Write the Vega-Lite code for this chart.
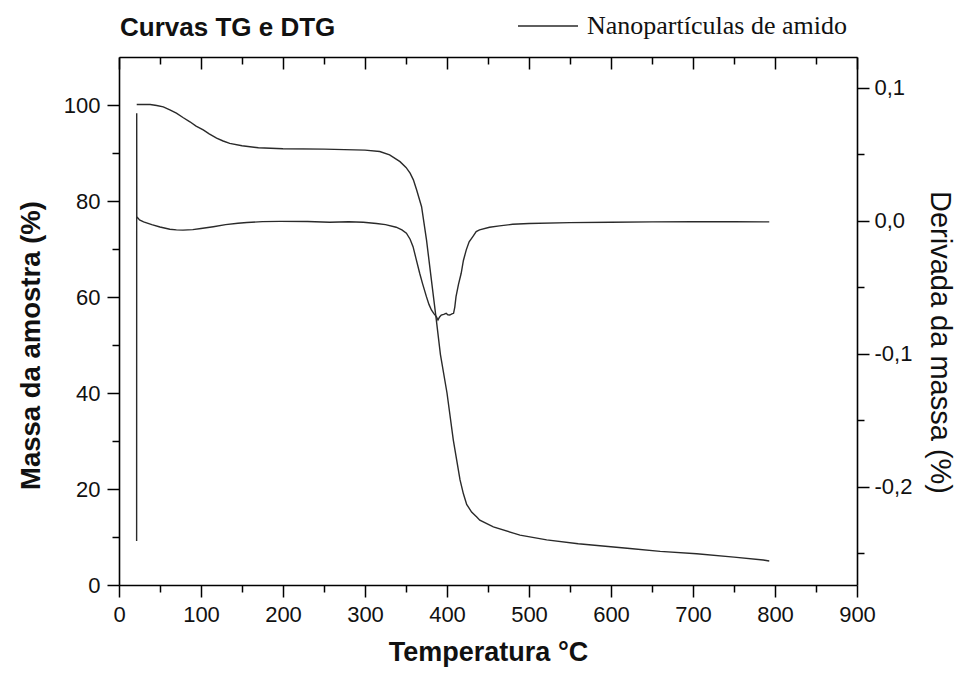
{
  "$schema": "https://vega.github.io/schema/vega-lite/v6.json",
  "autosize": {"type": "none"},
  "padding": {"left": 119, "top": 57, "right": 101, "bottom": 88},
  "width": 738,
  "height": 528,
  "background": "white",
  "config": {
    "view": {"stroke": null},
    "font": "Liberation Sans",
    "axis": {"grid": false, "domainColor": "#000", "tickColor": "#000", "domainWidth": 1.6, "tickWidth": 1.5, "labelColor": "#111", "titleColor": "#111", "labelFont": "Liberation Sans", "titleFont": "Liberation Sans", "labelFlush": false, "labelOverlap": false}
  },
  "title": {"text": "Curvas TG e DTG", "anchor": "start", "frame": "group", "fontSize": 26, "font": "Liberation Sans", "fontWeight": "bold", "baseline": "alphabetic", "offset": 0, "dy": 67, "dx": 1, "color": "#111"},
  "datasets": {
    "tg": [
      {"T": 21.6, "m": 100.1, "s": "Nanopartículas de amido"},
      {"T": 30, "m": 100.1, "s": "Nanopartículas de amido"},
      {"T": 38, "m": 100.1, "s": "Nanopartículas de amido"},
      {"T": 46, "m": 99.9, "s": "Nanopartículas de amido"},
      {"T": 54, "m": 99.6, "s": "Nanopartículas de amido"},
      {"T": 62, "m": 99.0, "s": "Nanopartículas de amido"},
      {"T": 70, "m": 98.3, "s": "Nanopartículas de amido"},
      {"T": 78, "m": 97.4, "s": "Nanopartículas de amido"},
      {"T": 86.5, "m": 96.5, "s": "Nanopartículas de amido"},
      {"T": 94, "m": 95.6, "s": "Nanopartículas de amido"},
      {"T": 102.7, "m": 94.8, "s": "Nanopartículas de amido"},
      {"T": 110, "m": 94.0, "s": "Nanopartículas de amido"},
      {"T": 119, "m": 93.1, "s": "Nanopartículas de amido"},
      {"T": 127, "m": 92.5, "s": "Nanopartículas de amido"},
      {"T": 135, "m": 92.0, "s": "Nanopartículas de amido"},
      {"T": 150, "m": 91.5, "s": "Nanopartículas de amido"},
      {"T": 170, "m": 91.1, "s": "Nanopartículas de amido"},
      {"T": 200, "m": 90.9, "s": "Nanopartículas de amido"},
      {"T": 250, "m": 90.8, "s": "Nanopartículas de amido"},
      {"T": 300, "m": 90.6, "s": "Nanopartículas de amido"},
      {"T": 318, "m": 90.3, "s": "Nanopartículas de amido"},
      {"T": 330, "m": 89.6, "s": "Nanopartículas de amido"},
      {"T": 342.7, "m": 88.2, "s": "Nanopartículas de amido"},
      {"T": 350, "m": 87.0, "s": "Nanopartículas de amido"},
      {"T": 355, "m": 85.8, "s": "Nanopartículas de amido"},
      {"T": 359, "m": 84.4, "s": "Nanopartículas de amido"},
      {"T": 363, "m": 82.3, "s": "Nanopartículas de amido"},
      {"T": 369, "m": 78.8, "s": "Nanopartículas de amido"},
      {"T": 375, "m": 71.9, "s": "Nanopartículas de amido"},
      {"T": 381, "m": 63.5, "s": "Nanopartículas de amido"},
      {"T": 387, "m": 55.2, "s": "Nanopartículas de amido"},
      {"T": 392, "m": 48.0, "s": "Nanopartículas de amido"},
      {"T": 400, "m": 40.0, "s": "Nanopartículas de amido"},
      {"T": 407.7, "m": 30.2, "s": "Nanopartículas de amido"},
      {"T": 415.9, "m": 21.9, "s": "Nanopartículas de amido"},
      {"T": 420, "m": 19.0, "s": "Nanopartículas de amido"},
      {"T": 424, "m": 16.8, "s": "Nanopartículas de amido"},
      {"T": 430, "m": 15.2, "s": "Nanopartículas de amido"},
      {"T": 436, "m": 14.2, "s": "Nanopartículas de amido"},
      {"T": 440, "m": 13.5, "s": "Nanopartículas de amido"},
      {"T": 456.5, "m": 12.1, "s": "Nanopartículas de amido"},
      {"T": 481, "m": 10.8, "s": "Nanopartículas de amido"},
      {"T": 489, "m": 10.4, "s": "Nanopartículas de amido"},
      {"T": 521.6, "m": 9.4, "s": "Nanopartículas de amido"},
      {"T": 560, "m": 8.6, "s": "Nanopartículas de amido"},
      {"T": 623, "m": 7.6, "s": "Nanopartículas de amido"},
      {"T": 660, "m": 7.0, "s": "Nanopartículas de amido"},
      {"T": 704.5, "m": 6.5, "s": "Nanopartículas de amido"},
      {"T": 750, "m": 5.8, "s": "Nanopartículas de amido"},
      {"T": 785.7, "m": 5.2, "s": "Nanopartículas de amido"},
      {"T": 793, "m": 5.0, "s": "Nanopartículas de amido"}
    ],
    "dtg": [
      {"i": 0, "T": 21.5, "d": -0.241},
      {"i": 1, "T": 21.6, "d": 0.0807},
      {"i": 2, "T": 21.7, "d": 0.003},
      {"i": 3, "T": 25, "d": 0.0005},
      {"i": 4, "T": 30, "d": -0.001},
      {"i": 5, "T": 40, "d": -0.003},
      {"i": 6, "T": 50, "d": -0.0048},
      {"i": 7, "T": 62, "d": -0.0065},
      {"i": 8, "T": 70, "d": -0.007},
      {"i": 9, "T": 78, "d": -0.0072},
      {"i": 10, "T": 90, "d": -0.0068},
      {"i": 11, "T": 100, "d": -0.006},
      {"i": 12, "T": 115, "d": -0.0046},
      {"i": 13, "T": 130, "d": -0.003},
      {"i": 14, "T": 145, "d": -0.002},
      {"i": 15, "T": 156, "d": -0.0014},
      {"i": 16, "T": 175, "d": -0.0008},
      {"i": 17, "T": 196, "d": -0.0006},
      {"i": 18, "T": 230, "d": -0.0007},
      {"i": 19, "T": 257, "d": -0.0012},
      {"i": 20, "T": 280, "d": -0.0009},
      {"i": 21, "T": 298, "d": -0.0013},
      {"i": 22, "T": 314, "d": -0.0022},
      {"i": 23, "T": 325, "d": -0.003},
      {"i": 24, "T": 338, "d": -0.005},
      {"i": 25, "T": 345, "d": -0.007},
      {"i": 26, "T": 350.5, "d": -0.0095},
      {"i": 27, "T": 355, "d": -0.014},
      {"i": 28, "T": 358.6, "d": -0.0196},
      {"i": 29, "T": 362, "d": -0.028},
      {"i": 30, "T": 366.7, "d": -0.0396},
      {"i": 31, "T": 370, "d": -0.047},
      {"i": 32, "T": 374.9, "d": -0.0572},
      {"i": 33, "T": 378, "d": -0.063},
      {"i": 34, "T": 381, "d": -0.0672},
      {"i": 35, "T": 384, "d": -0.07},
      {"i": 36, "T": 387, "d": -0.0722},
      {"i": 37, "T": 389, "d": -0.0747},
      {"i": 38, "T": 391, "d": -0.0725},
      {"i": 39, "T": 393, "d": -0.071},
      {"i": 40, "T": 396, "d": -0.0705},
      {"i": 41, "T": 399, "d": -0.0697},
      {"i": 42, "T": 401, "d": -0.0708},
      {"i": 43, "T": 403.4, "d": -0.071},
      {"i": 44, "T": 406, "d": -0.0702},
      {"i": 45, "T": 408, "d": -0.0697},
      {"i": 46, "T": 409.5, "d": -0.065},
      {"i": 47, "T": 411, "d": -0.0572},
      {"i": 48, "T": 414, "d": -0.048},
      {"i": 49, "T": 417.3, "d": -0.0396},
      {"i": 50, "T": 420, "d": -0.03},
      {"i": 51, "T": 423.5, "d": -0.022},
      {"i": 52, "T": 427, "d": -0.016},
      {"i": 53, "T": 431.5, "d": -0.012},
      {"i": 54, "T": 435.6, "d": -0.0083},
      {"i": 55, "T": 439.7, "d": -0.007},
      {"i": 56, "T": 451.9, "d": -0.005},
      {"i": 57, "T": 464, "d": -0.004},
      {"i": 58, "T": 480, "d": -0.0028},
      {"i": 59, "T": 500, "d": -0.0022},
      {"i": 60, "T": 550, "d": -0.0015},
      {"i": 61, "T": 600, "d": -0.0012},
      {"i": 62, "T": 650, "d": -0.001},
      {"i": 63, "T": 700, "d": -0.0009},
      {"i": 64, "T": 750, "d": -0.0009},
      {"i": 65, "T": 793, "d": -0.001}
    ]
  },
  "layer": [
    {
      "data": {"name": "tg"},
      "mark": {"type": "line", "strokeWidth": 1.4},
      "encoding": {
        "x": {"field": "T", "type": "quantitative", "scale": {"domain": [0, 900], "nice": false, "zero": false},
          "axis": {"orient": "bottom", "values": [0, 100, 200, 300, 400, 500, 600, 700, 800, 900], "tickSize": 12, "labelFontSize": 22, "labelPadding": 7, "title": "Temperatura °C", "titleFontSize": 27, "titleFontWeight": "bold", "titleBaseline": "alphabetic", "titleY": 75}},
        "y": {"field": "m", "type": "quantitative", "scale": {"domain": [0, 110], "nice": false, "zero": false},
          "axis": {"orient": "left", "values": [0, 20, 40, 60, 80, 100], "tickSize": 12, "labelFontSize": 22, "labelPadding": 7, "title": "Massa da amostra (%)", "titleFontSize": 27.5, "titleFontWeight": "bold", "titleAngle": -90, "titleBaseline": "alphabetic", "titleX": -80, "titleY": 288}},
        "color": {"field": "s", "type": "nominal", "scale": {"range": ["#2a2a2a"]},
          "legend": {"orient": "none", "legendX": 398, "legendY": -62, "padding": 0, "title": null, "symbolType": "stroke", "symbolSize": 3600, "symbolStrokeWidth": 1.3, "labelFont": "Liberation Serif", "labelFontSize": 26, "labelOffset": 8, "labelLimit": 0, "labelColor": "#111"}}
      }
    },
    {
      "data": {"name": "dtg"},
      "mark": {"type": "line", "strokeWidth": 1.4, "color": "#2a2a2a"},
      "encoding": {
        "x": {"field": "T", "type": "quantitative", "scale": {"domain": [0, 900], "nice": false, "zero": false},
          "axis": {"orient": "top", "values": [0, 100, 200, 300, 400, 500, 600, 700, 800, 900], "tickSize": -12, "labels": false, "title": null}},
        "y": {"field": "d", "type": "quantitative", "scale": {"domain": [-0.274, 0.123], "nice": false, "zero": false},
          "axis": {"orient": "right", "values": [0.1, 0, -0.1, -0.2], "format": ".1f", "labelExpr": "replace(replace(datum.label, '.', ','), '\u2212', '-')", "tickSize": 12, "labelFontSize": 22, "labelPadding": 5, "title": "Derivada da massa (%)", "titleFontSize": 29, "titleFontWeight": "normal", "titleAngle": 90, "titleBaseline": "alphabetic", "titleX": 73, "titleY": 285}},
        "order": {"field": "i", "type": "quantitative"}
      }
    },
    {
      "data": {"name": "tg"},
      "mark": {"type": "line", "opacity": 0},
      "encoding": {
        "x": {"field": "T", "type": "quantitative", "scale": {"domain": [0, 900], "nice": false, "zero": false},
          "axis": {"orient": "bottom", "values": [50, 150, 250, 350, 450, 550, 650, 750, 850], "tickSize": 7, "labels": false, "domain": false, "title": null}},
        "y": {"field": "m", "type": "quantitative", "scale": {"domain": [0, 110], "nice": false, "zero": false},
          "axis": {"orient": "left", "values": [10, 30, 50, 70, 90], "tickSize": 7, "labels": false, "domain": false, "title": null}}
      }
    },
    {
      "data": {"name": "dtg"},
      "mark": {"type": "line", "opacity": 0},
      "encoding": {
        "x": {"field": "T", "type": "quantitative", "scale": {"domain": [0, 900], "nice": false, "zero": false},
          "axis": {"orient": "top", "values": [50, 150, 250, 350, 450, 550, 650, 750, 850], "tickSize": -7, "labels": false, "domain": false, "title": null}},
        "y": {"field": "d", "type": "quantitative", "scale": {"domain": [-0.274, 0.123], "nice": false, "zero": false},
          "axis": {"orient": "right", "values": [0.05, -0.05, -0.15, -0.25], "tickSize": 7, "labels": false, "domain": false, "title": null}},
        "order": {"field": "i", "type": "quantitative"}
      }
    }
  ],
  "resolve": {"scale": {"y": "independent"}, "axis": {"x": "independent", "y": "independent"}}
}
